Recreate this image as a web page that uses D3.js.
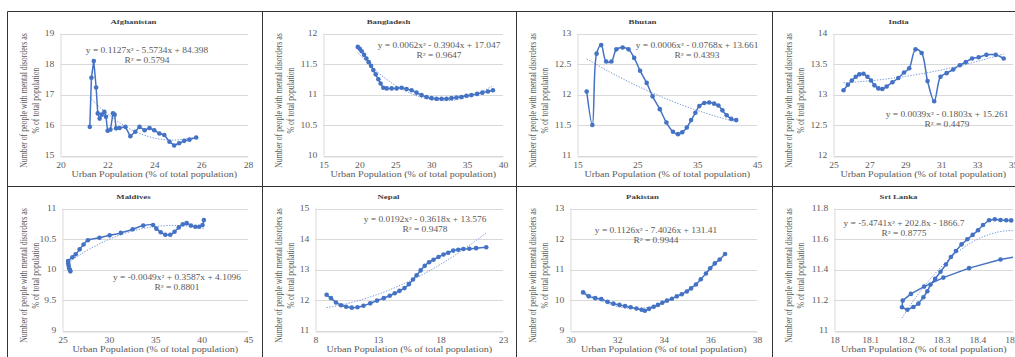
<!DOCTYPE html>
<html>
<head>
<meta charset="utf-8">
<script src="https://cdn.jsdelivr.net/npm/d3@7"></script>
<style>
  body { margin: 0; background: #fff; }
  svg { display: block; }
  text { font-family: 'Liberation Serif', 'Times New Roman', serif; }
</style>
</head>
<body>
<div id="chart"></div>
<script>
// [urban population %, people with mental disorders %]
const afghanistan = [[21.25,15.94],[21.32,17.55],[21.42,18.1],[21.52,17.23],[21.59,16.38],[21.67,16.21],[21.76,16.34],[21.87,16.43],[21.94,16.27],[22.01,15.81],[22.13,15.85],[22.24,16.38],[22.31,16.34],[22.37,15.89],[22.52,15.9],[22.77,15.94],[22.98,15.63],[23.19,15.78],[23.37,15.94],[23.59,15.83],[23.8,15.9],[24.0,15.83],[24.22,15.72],[24.43,15.67],[24.65,15.45],[24.85,15.33],[25.06,15.4],[25.28,15.48],[25.5,15.52],[25.79,15.59]];
const bangladesh = [[19.77,11.78],[20.05,11.75],[20.32,11.71],[20.65,11.65],[20.97,11.59],[21.3,11.53],[21.62,11.47],[21.94,11.4],[22.27,11.33],[22.64,11.25],[22.96,11.18],[23.33,11.11],[23.8,11.1],[24.49,11.1],[25.19,11.1],[25.88,11.11],[26.57,11.09],[27.27,11.07],[27.96,11.03],[28.66,10.99],[29.35,10.96],[30.05,10.94],[30.74,10.93],[31.44,10.93],[32.13,10.93],[32.82,10.94],[33.52,10.95],[34.21,10.96],[34.91,10.98],[35.6,10.99],[36.39,11.01],[37.13,11.03],[37.9,11.05],[38.6,11.07]];
const bhutan = [[16.54,12.05],[17.48,11.5],[18.19,12.67],[18.96,12.81],[19.79,12.54],[20.67,12.54],[21.49,12.74],[22.54,12.77],[23.53,12.74],[24.47,12.6],[25.46,12.39],[26.56,12.19],[27.55,11.97],[28.76,11.76],[29.86,11.54],[30.96,11.39],[31.79,11.35],[32.5,11.38],[33.27,11.46],[33.99,11.58],[34.7,11.7],[35.36,11.81],[36.19,11.86],[37.01,11.87],[37.84,11.85],[38.55,11.82],[39.22,11.74],[39.93,11.66],[40.7,11.6],[41.53,11.58]];
const india = [[25.56,13.07],[25.8,13.16],[26.02,13.23],[26.24,13.29],[26.44,13.33],[26.67,13.34],[26.89,13.29],[27.09,13.23],[27.28,13.15],[27.5,13.1],[27.72,13.09],[27.96,13.13],[28.28,13.2],[28.61,13.27],[28.93,13.36],[29.22,13.43],[29.57,13.74],[29.91,13.68],[30.24,13.22],[30.61,12.89],[30.96,13.29],[31.3,13.35],[31.67,13.41],[32.04,13.48],[32.37,13.53],[32.72,13.59],[33.09,13.61],[33.52,13.65],[34.04,13.65],[34.48,13.59]];
const maldives = [[25.85,9.97],[25.8,9.99],[25.72,10.02],[25.66,10.06],[25.62,10.1],[25.6,10.14],[26.07,10.2],[26.42,10.25],[26.85,10.33],[27.27,10.41],[27.74,10.48],[28.98,10.52],[30.08,10.56],[31.29,10.6],[32.57,10.66],[33.7,10.72],[34.77,10.73],[35.12,10.67],[35.59,10.61],[36.08,10.57],[36.62,10.57],[37.08,10.62],[37.54,10.69],[37.97,10.74],[38.39,10.76],[38.85,10.72],[39.32,10.7],[39.74,10.7],[40.1,10.73],[40.24,10.81]];
const nepal = [[8.89,12.17],[9.24,12.06],[9.64,11.92],[10.04,11.83],[10.45,11.78],[10.9,11.75],[11.36,11.76],[11.84,11.81],[12.38,11.89],[12.92,11.98],[13.46,12.06],[13.94,12.14],[14.34,12.22],[14.72,12.3],[15.12,12.39],[15.47,12.52],[15.8,12.67],[16.09,12.81],[16.41,12.97],[16.74,13.12],[17.09,13.24],[17.44,13.32],[17.84,13.41],[18.24,13.49],[18.62,13.55],[19.02,13.62],[19.42,13.65],[19.83,13.67],[20.31,13.68],[20.85,13.7],[21.66,13.73]];
const pakistan = [[30.54,10.25],[30.78,10.12],[31.06,10.06],[31.32,10.03],[31.59,9.94],[31.84,9.88],[32.1,9.84],[32.34,9.8],[32.58,9.76],[32.83,9.72],[33.05,9.68],[33.19,9.65],[33.37,9.71],[33.57,9.78],[33.75,9.84],[33.94,9.91],[34.14,9.98],[34.35,10.04],[34.56,10.12],[34.77,10.19],[34.99,10.28],[35.17,10.38],[35.38,10.51],[35.59,10.68],[35.81,10.87],[35.99,11.04],[36.19,11.2],[36.4,11.33],[36.63,11.51]];
const sriLanka = [[18.55,11.5],[18.465,11.466],[18.377,11.409],[18.305,11.347],[18.251,11.288],[18.214,11.24],[18.191,11.196],[18.189,11.152],[18.204,11.136],[18.221,11.154],[18.235,11.176],[18.249,11.218],[18.26,11.257],[18.269,11.301],[18.282,11.339],[18.297,11.385],[18.312,11.433],[18.326,11.482],[18.34,11.521],[18.356,11.565],[18.372,11.598],[18.387,11.627],[18.402,11.657],[18.416,11.692],[18.433,11.723],[18.449,11.73],[18.465,11.725],[18.481,11.723],[18.495,11.722]];

const countries = ['Afghanistan', 'Bangladesh', 'Bhutan', 'India', 'Maldives', 'Nepal', 'Pakistan', 'Sri Lanka'];
const xTickSets = [[20,22,24,26,28], [15,20,25,30,35,40], [15,25,35,45], [25,27,29,31,33,35], [25,30,35,40,45], [8,13,18,23], [30,32,34,36,38], [18,18.1,18.2,18.3,18.4,18.5]];
const yTickSets = [[15,16,17,18,19], [10,10.5,11,11.5,12], [11,11.5,12,12.5,13], [12,12.5,13,13.5,14], [9,9.5,10,10.5,11], [11,12,13,14,15], [9,10,11,12,13], [11,11.2,11.4,11.6,11.8]];
const equations = [
  ['y = 0.1127x² - 5.5734x + 84.398', 'R² = 0.5794'],
  ['y = 0.0062x² - 0.3904x + 17.047', 'R² = 0.9647'],
  ['y = 0.0006x² - 0.0768x + 13.661', 'R² = 0.4393'],
  ['y = 0.0039x² - 0.1803x + 15.261', 'R² = 0.4479'],
  ['y = -0.0049x² + 0.3587x + 4.1096', 'R² = 0.8801'],
  ['y = 0.0192x² - 0.3618x + 13.576', 'R² = 0.9478'],
  ['y = 0.1126x² - 7.4026x + 131.41', 'R² = 0.9944'],
  ['y = -5.4741x² + 202.8x - 1866.7', 'R² = 0.8775']
];
const seriesList = [afghanistan, bangladesh, bhutan, india, maldives, nepal, pakistan, sriLanka];

const width = 1015, height = 357;
const colX = [7.5, 262.5, 516.5, 772.5];
const rowY = [11.5, 186.5];
const stretch = 1.26;   // picture is widened horizontally
const blue = '#4472c4';
const grey = '#595959';

// layout per panel: plot left offset, smoothed line, equation anchor
const layout = [
  { left: 53, smooth: false, eq: [147, 53] },
  { left: 61, smooth: true,  eq: [439, 48] },
  { left: 61, smooth: true,  eq: [697, 48] },
  { left: 61, smooth: true,  eq: [947, 117] },
  { left: 55, smooth: true,  eq: [177, 280] },
  { left: 53, smooth: true,  eq: [425, 222] },
  { left: 54, smooth: true,  eq: [656, 233] },
  { left: 62, smooth: false, eq: [904, 226] }
];

function quadFit(pts) {
  const mx = d3.mean(pts, d => d[0]);
  const s = [0,0,0,0,0], t = [0,0,0];
  pts.forEach(([x0, y]) => {
    const u = x0 - mx;
    let p = 1;
    for (let k = 0; k < 5; k++) {
      s[k] += p;
      if (k < 3) t[k] += p * y;
      p *= u;
    }
  });
  const M = [[s[4],s[3],s[2],t[2]], [s[3],s[2],s[1],t[1]], [s[2],s[1],s[0],t[0]]];
  for (let i = 0; i < 3; i++) {
    for (let j = i + 1; j < 3; j++) {
      const f = M[j][i] / M[i][i];
      for (let k = i; k < 4; k++) M[j][k] -= f * M[i][k];
    }
  }
  const r = [0,0,0];
  for (let i = 2; i >= 0; i--) {
    let v = M[i][3];
    for (let k = i + 1; k < 3; k++) v -= M[i][k] * r[k];
    r[i] = v / M[i][i];
  }
  return x => { const u = x - mx; return r[0]*u*u + r[1]*u + r[2]; };
}

const svg = d3.select('#chart').append('svg')
  .attr('width', width)
  .attr('height', height);

svg.append('rect').attr('width', width).attr('height', height).attr('fill', '#fff');

const defs = svg.append('defs');

countries.forEach((name, i) => {
  const col = i % 4, row = Math.floor(i / 4);
  const x0 = colX[col], y0 = rowY[row];
  const lay = layout[i];
  const data = seriesList[i];
  const xTicks = xTickSets[i], yTicks = yTickSets[i];

  const left = x0 + lay.left, right = x0 + 240.5;
  const top = y0 + 22, bottom = y0 + 144;

  const x = d3.scaleLinear().domain(d3.extent(xTicks)).range([left, right]);
  const y = d3.scaleLinear().domain(d3.extent(yTicks)).range([bottom, top]);

  const g = svg.append('g');

  defs.append('clipPath').attr('id', 'clip' + i)
    .append('rect')
    .attr('x', left).attr('y', top - 1)
    .attr('width', right - left).attr('height', bottom - top + 1);

  // gridlines
  g.append('g').selectAll('line')
    .data(yTicks)
    .join('line')
    .attr('x1', left).attr('x2', right)
    .attr('y1', d => Math.round(y(d)) + 0.5).attr('y2', d => Math.round(y(d)) + 0.5)
    .attr('stroke', '#d9d9d9')
    .attr('stroke-width', 1);

  g.append('line')
    .attr('x1', left + 0.5).attr('x2', left + 0.5)
    .attr('y1', top).attr('y2', bottom)
    .attr('stroke', '#d9d9d9');

  const xAxis = g.append('g')
    .attr('transform', `translate(0,${Math.round(bottom) + 0.5})`)
    .call(d3.axisBottom(x).tickValues(xTicks).tickSize(0).tickSizeOuter(0).tickPadding(6).tickFormat(d => String(d)));
  xAxis.select('.domain').attr('stroke', '#d9d9d9');
  xAxis.selectAll('text')
    .attr('fill', grey).attr('font-size', 7.6)
    .attr('font-family', 'Liberation Serif')
    .attr('transform', `scale(${stretch},1)`);

  const yAxis = g.append('g')
    .attr('transform', `translate(${left},0)`)
    .call(d3.axisLeft(y).tickValues(yTicks).tickSize(0).tickPadding(5).tickFormat(d => String(d)));
  yAxis.select('.domain').remove();
  yAxis.selectAll('text')
    .attr('fill', grey).attr('font-size', 7.6)
    .attr('font-family', 'Liberation Serif')
    .attr('transform', `scale(${stretch},1)`);

  // trendline
  const fit = quadFit(data);
  const [xmin, xmax] = d3.extent(data, d => d[0]);
  const trend = d3.range(0, 81).map(k => {
    const xv = xmin + (xmax - xmin) * k / 80;
    return [xv, fit(xv)];
  });

  const plot = g.append('g').attr('clip-path', `url(#clip${i})`);

  plot.append('path')
    .datum(data)
    .attr('fill', 'none')
    .attr('stroke', blue)
    .attr('stroke-width', 1.5)
    .attr('stroke-linejoin', 'round')
    .attr('d', d3.line()
      .x(d => x(d[0])).y(d => y(d[1]))
      .curve(lay.smooth ? d3.curveCatmullRom.alpha(0.5) : d3.curveLinear));

  plot.append('path')
    .datum(trend)
    .attr('fill', 'none')
    .attr('stroke', '#6f93d6')
    .attr('stroke-width', 1)
    .attr('stroke-dasharray', '1.3 1.5')
    .attr('d', d3.line().x(d => x(d[0])).y(d => y(d[1])));

  g.append('g').selectAll('circle')
    .data(data.filter(d => d[0] <= x.domain()[1]))
    .join('circle')
    .attr('cx', d => x(d[0]))
    .attr('cy', d => y(d[1]))
    .attr('r', 2.3)
    .attr('fill', blue);

  // equation
  equations[i].forEach((line, k) => {
    g.append('text')
      .attr('transform', `translate(${lay.eq[0]},${lay.eq[1] + k * 9.5}) scale(${stretch},1)`)
      .attr('text-anchor', 'middle')
      .attr('font-size', 7.5)
      .attr('fill', grey)
      .text(line);
  });

  // title
  g.append('text')
    .attr('transform', `translate(${x0 + 126},${y0 + 12.8}) scale(${stretch},1)`)
    .attr('text-anchor', 'middle')
    .attr('font-size', 7)
    .attr('font-weight', 'bold')
    .attr('fill', '#404040')
    .text(name);

  // axis titles
  g.append('text')
    .attr('transform', `translate(${(left + right) / 2},${y0 + 165}) scale(${stretch},1)`)
    .attr('text-anchor', 'middle')
    .attr('font-size', 8)
    .attr('fill', grey)
    .text('Urban Population (% of total population)');

  ['Number of people with mental disorders as', '% of total population'].forEach((line, k) => {
    g.append('text')
      .attr('transform', `translate(${x0 + 16 + k * 12},${y0 + 89}) scale(${stretch},1) rotate(-90)`)
      .attr('text-anchor', 'middle')
      .attr('dy', '0.32em')
      .attr('font-size', 7.8)
      .attr('fill', grey)
      .text(line);
  });
});

// panel frame
const frame = svg.append('g').attr('stroke', '#333').attr('stroke-width', 1);
rowY.forEach(yy => frame.append('line').attr('x1', colX[0]).attr('x2', width).attr('y1', yy).attr('y2', yy));
colX.forEach(xx => frame.append('line').attr('x1', xx).attr('x2', xx).attr('y1', rowY[0]).attr('y2', height));
</script>
</body>
</html>
